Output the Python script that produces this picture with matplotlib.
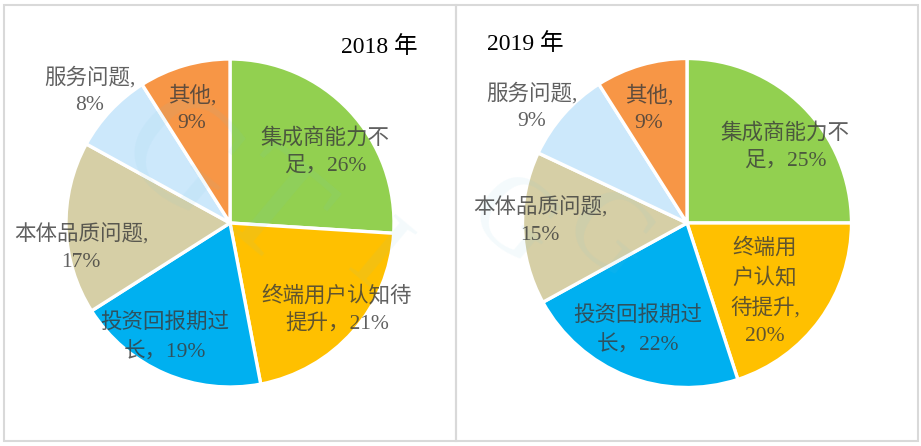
import matplotlib.pyplot as plt
from matplotlib.patches import Rectangle

# Dane
wartosci_2018 = [26, 21, 19, 17, 8, 9]
wartosci_2019 = [25, 20, 22, 15, 9, 9]
kolory = ['#92D050', '#FFC000', '#00B0F0', '#D6CFA6', '#CCE8FB', '#F79646']

etykiety_2018 = ['集成商能力不\n足，26%', '终端用户认知待\n提升，21%', '投资回报期过\n长，19%',
                 '本体品质问题,\n17%', '服务问题,\n8%', '其他,\n9%']
etykiety_2019 = ['集成商能力不\n足，25%', '终端用\n户认知\n待提升,\n20%', '投资回报期过\n长，22%',
                 '本体品质问题,\n15%', '服务问题,\n9%', '其他,\n9%']

# Pozycje w pikselach obrazka
W, H = 921, 446
poz_2018 = [(325, 152), (337, 310), (165, 338), (81, 248), (90, 91), (192, 109)]
poz_2019 = [(785, 147), (765, 292), (638, 331), (540, 221), (532, 107), (649, 109)]
FONT = ['Liberation Serif', 'Noto Sans CJK SC']

fig = plt.figure(figsize=(W / 100, H / 100), dpi=100, facecolor='white')


def px(x, y):
    return x / W, 1 - y / H


def rysuj_kolo(wartosci, etykiety, pozycje, cx, cy, r):
    ax = fig.add_axes([(cx - r) / W, 1 - (cy + r) / H, 2 * r / W, 2 * r / H])
    ax.pie(wartosci, colors=kolory, startangle=90, counterclock=False,
           wedgeprops=dict(edgecolor='white', linewidth=2.4))
    ax.set_xlim(-1, 1)
    ax.set_ylim(-1, 1)
    ax.set_aspect('equal')
    for tekst, (x, y) in zip(etykiety, pozycje):
        fx, fy = px(x, y)
        fig.text(fx, fy, tekst, family=FONT, fontsize=15.5, color='#3a3a3a', alpha=0.8,
                 ha='center', va='center', linespacing=1.55, multialignment='center', zorder=5)


rysuj_kolo(wartosci_2018, etykiety_2018, poz_2018, 230, 223, 164)
rysuj_kolo(wartosci_2019, etykiety_2019, poz_2019, 687, 223, 164.5)

# Ramki obu wykresow
for x0, x1 in [(4, 456), (456, 918)]:
    fig.add_artist(Rectangle((x0 / W, 1 - 441 / H), (x1 - x0) / W, 436 / H, transform=fig.transFigure,
                             fill=False, edgecolor='#d9d9d9', linewidth=1.5))

# Tytuly
for rok, (x, y) in [('2018 年', (379, 47)), ('2019 年', (525, 44))]:
    fx, fy = px(x, y)
    fig.text(fx, fy, rok, family=FONT, fontsize=17, color='black', ha='center', va='center', zorder=6)

# Znak wodny
for znak, (x, y), rozmiar in [('G', (175, 165), 110), ('T', (265, 215), 110), ('I', (375, 260), 80),
                              ('G', (510, 225), 80), ('G', (605, 240), 80)]:
    fx, fy = px(x, y)
    fig.text(fx, fy, znak, family='Liberation Serif', fontsize=rozmiar, color='#6fc3df', alpha=0.08,
             rotation=-40, ha='center', va='center', zorder=4)

fig.savefig('out.png', dpi=100)
